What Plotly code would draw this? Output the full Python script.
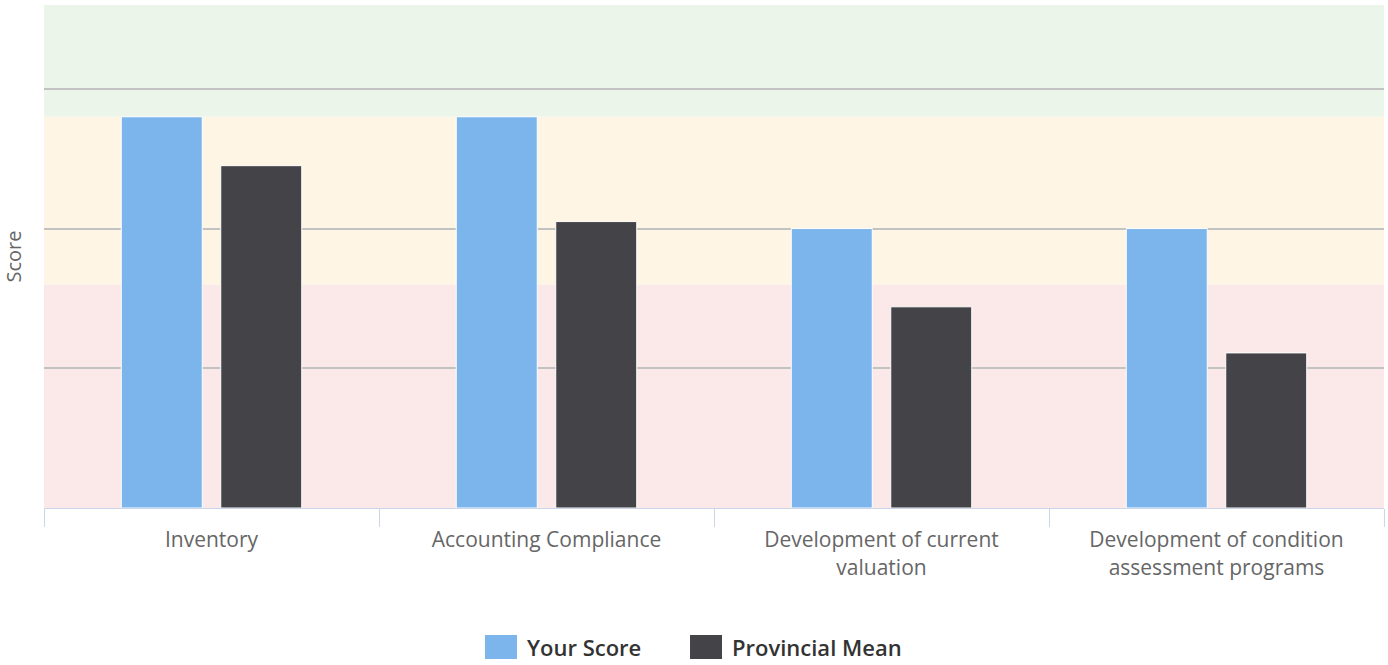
import plotly.graph_objects as go

categories = ["Inventory", "Accounting Compliance",
              "Development of current<br>valuation",
              "Development of condition<br>assessment programs"]
your_score = [2.8, 2.8, 2.0, 2.0]
provincial_mean = [2.45, 2.05, 1.44, 1.11]
series_names = ["Your Score", "Provincial Mean"]
series_colors = ["#7cb5ec", "#434348"]

# score bands (lower, upper, colour)
band_edges = [0, 1.6, 2.8, 3.6]
band_colors = ["#fbe8e8", "#fef5e5", "#ebf5ea"]

fig = go.Figure()
for name, vals, col in zip(series_names, [your_score, provincial_mean], series_colors):
    fig.add_trace(go.Bar(x=categories, y=vals, name=name, marker=dict(color=col, line=dict(color="white", width=1)),
                         showlegend=False))

shapes = []
for i, col in enumerate(band_colors):
    shapes.append(dict(type="rect", xref="paper", x0=0, x1=1, yref="y", y0=band_edges[i], y1=band_edges[i + 1],
                       fillcolor=col, line=dict(width=0), layer="below"))

# custom legend
legend_items = [(0.3291, series_names[0], series_colors[0]), (0.4821, series_names[1], series_colors[1])]
annotations = []
for x0, name, col in legend_items:
    w = 32 / 1340
    shapes.append(dict(type="rect", xref="paper", yref="paper", x0=x0, x1=x0 + w, y0=-0.2525, y1=-0.300,
                       fillcolor=col, line=dict(width=0)))
    annotations.append(dict(xref="paper", yref="paper", x=x0 + w + 8 / 1340, y=-0.2765, xanchor="left",
                            yanchor="middle", text=name, showarrow=False,
                            font=dict(family="Open Sans", size=22, color="#333333", weight=600)))

fig.update_layout(
    width=1388, height=665,
    margin=dict(l=44, r=4, t=5, b=157),
    paper_bgcolor="white", plot_bgcolor="white",
    barmode="group", bargap=0.406, bargroupgap=0.186,
    shapes=shapes, annotations=annotations,
    font=dict(family="Open Sans"),
    xaxis=dict(type="category", showline=True, linecolor="#ccd6eb", linewidth=1,
               ticks="outside", tickson="boundaries", ticklen=18, tickcolor="#ccd6eb", tickwidth=1,
               tickfont=dict(family="Open Sans", size=21, color="#666666"), showgrid=False,
               ticklabelstandoff=13, range=[-0.5, 3.5]),
    yaxis=dict(range=[0, 3.6], dtick=1, showticklabels=False, showgrid=True, gridcolor="#c2c2c2",
               gridwidth=1.5, zeroline=False, showline=False,
               title=dict(text="Score", font=dict(family="Open Sans", size=20, color="#666666"), standoff=18)),
)

fig.write_html("out.html", config={"displayModeBar": False},
               post_script="document.body.style.margin='0';")
